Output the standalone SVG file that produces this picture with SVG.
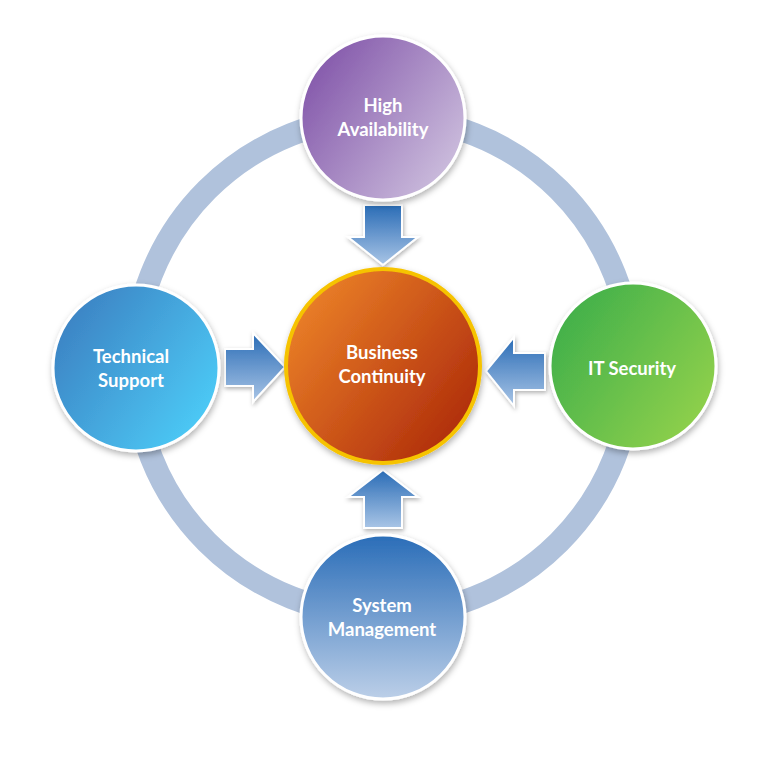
<svg xmlns="http://www.w3.org/2000/svg" width="768" height="768" viewBox="0 0 768 768">
<defs>
<linearGradient id="gPurple" x1="0" y1="0" x2="1" y2="0.7"><stop offset="0" stop-color="#7a4aa4"/><stop offset="1" stop-color="#cbbcdc"/></linearGradient>
<linearGradient id="gBlueL" x1="0" y1="0" x2="1" y2="0.7"><stop offset="0" stop-color="#3a78bc"/><stop offset="1" stop-color="#4ccaf6"/></linearGradient>
<linearGradient id="gOrange" x1="0" y1="0" x2="1" y2="0.8"><stop offset="0" stop-color="#f38c2c"/><stop offset="1" stop-color="#ad2a0a"/></linearGradient>
<linearGradient id="gGreen" x1="0" y1="0" x2="1" y2="0.7"><stop offset="0" stop-color="#35ab4a"/><stop offset="1" stop-color="#8fd04c"/></linearGradient>
<linearGradient id="gBlueB" x1="0" y1="0" x2="0" y2="1"><stop offset="0" stop-color="#2a6db8"/><stop offset="1" stop-color="#bccfe8"/></linearGradient>
<linearGradient id="gArrow" x1="0" y1="0" x2="0" y2="1"><stop offset="0" stop-color="#2a6cb6"/><stop offset="1" stop-color="#a9c5e6"/></linearGradient>
<filter id="sh" x="-20%" y="-20%" width="140%" height="140%"><feDropShadow dx="1" dy="3" stdDeviation="3" flood-color="#000" flood-opacity="0.3"/></filter>
<filter id="shA" x="-20%" y="-20%" width="140%" height="140%"><feDropShadow dx="1" dy="2" stdDeviation="2" flood-color="#000" flood-opacity="0.3"/></filter>
</defs>
<style>
.node{stroke:#fff;stroke-width:3;filter:url(#sh)}
.arrow{fill:url(#gArrow);stroke:#fff;stroke-width:2;stroke-linejoin:miter;filter:url(#shA)}
.lbl{font-family:Lato,"Open Sans","Liberation Sans",sans-serif;font-weight:bold;font-size:18.5px;fill:#fff;text-anchor:middle}
</style>
<rect width="768" height="768" fill="#fff"/>
<g id="connectors">
<circle cx="383" cy="366" r="249" fill="none" stroke="#b0c2dc" stroke-width="23"/>
<path class="arrow" d="M364,205 H402 V237 H418 L383,265 L348,237 H364 Z"/>
<path class="arrow" d="M364,528 H402 V497 H418 L383,470 L348,497 H364 Z"/>
<path class="arrow" d="M225,349 H253 V333 L285,367 L253,402 V386 H225 Z"/>
<path class="arrow" d="M545,353 H514 V337 L486,371 L514,406 V390 H545 Z"/>
</g>
<g id="node-high-availability">
<circle class="node" cx="383" cy="118" r="82" fill="url(#gPurple)"/>
<text class="lbl" x="383" y="112">High</text>
<text class="lbl" x="383" y="136">Availability</text>
</g>
<g id="node-technical-support">
<circle class="node" cx="136" cy="368" r="83" fill="url(#gBlueL)"/>
<text class="lbl" x="131" y="363">Technical</text>
<text class="lbl" x="131" y="387">Support</text>
</g>
<g id="node-it-security">
<circle class="node" cx="633" cy="366" r="83" fill="url(#gGreen)"/>
<text class="lbl" x="632" y="375">IT Security</text>
</g>
<g id="node-system-management">
<circle class="node" cx="383" cy="617" r="82" fill="url(#gBlueB)"/>
<text class="lbl" x="382" y="612">System</text>
<text class="lbl" x="382" y="636">Management</text>
</g>
<g id="node-business-continuity">
<circle cx="383" cy="366" r="97" fill="url(#gOrange)" stroke="#f6c300" stroke-width="4" filter="url(#sh)"/>
<text class="lbl" x="382" y="359">Business</text>
<text class="lbl" x="382" y="383">Continuity</text>
</g>
</svg>
